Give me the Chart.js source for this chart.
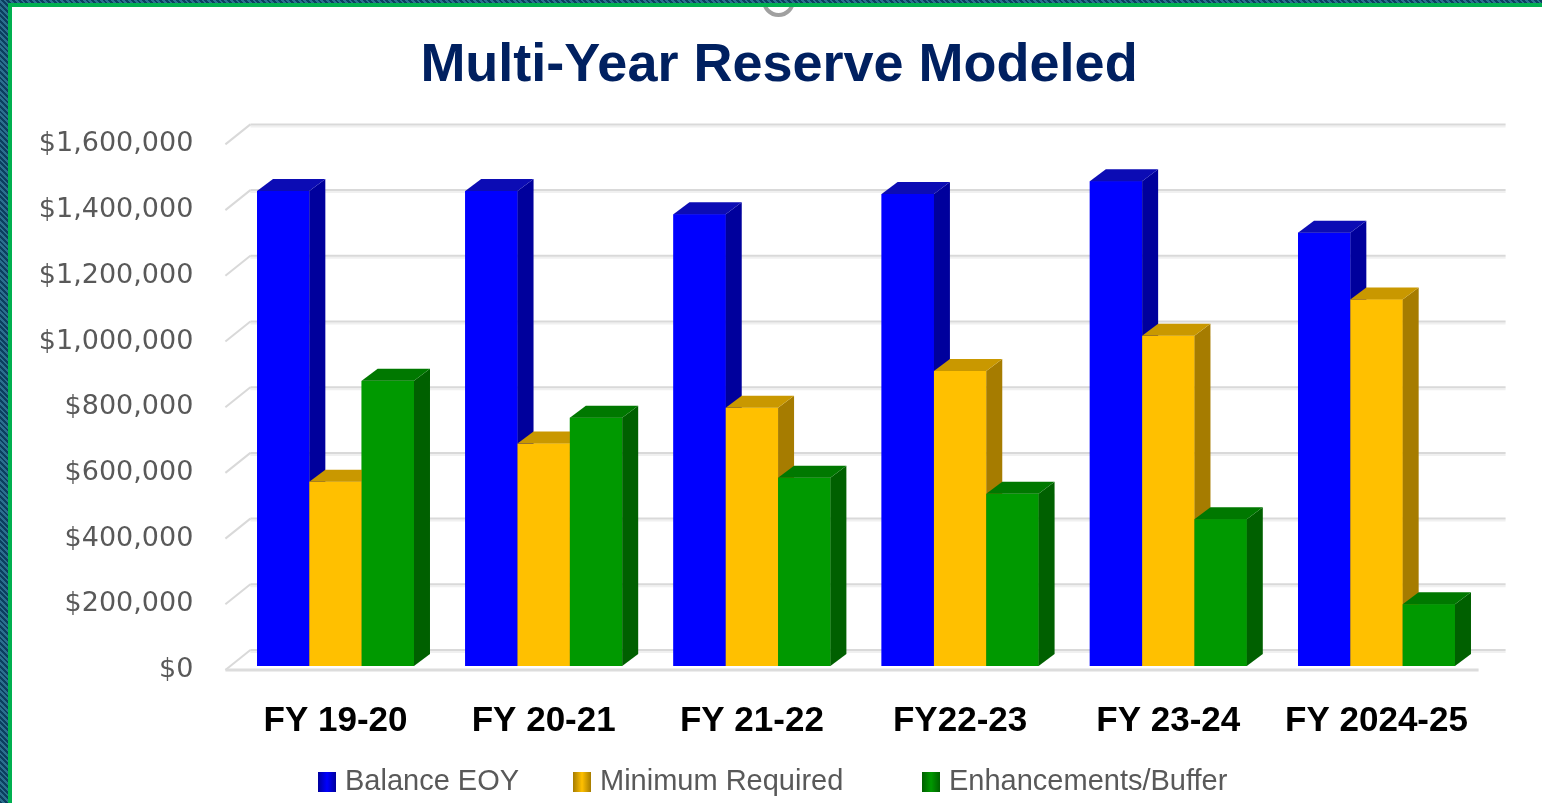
<!DOCTYPE html>
<html>
<head>
<meta charset="utf-8">
<title>Multi-Year Reserve Modeled</title>
<script src="https://cdn.jsdelivr.net/npm/chart.js@4.4.1/dist/chart.umd.min.js"></script>
<style>
  html, body { margin: 0; padding: 0; width: 1542px; height: 803px; overflow: hidden; }
  body { position: relative; background: repeating-linear-gradient(45deg, #0b3f5f 0 2px, #2b6f8f 2px 4px); }
  #panel { position: absolute; left: 8px; top: 3px; width: 1540px; height: 810px; background: #fff;
           border-left: 4px solid #00b050; border-top: 4px solid #00b050; overflow: hidden; }
  #knob { position: absolute; left: 750px; top: -23px; width: 25px; height: 25px; border: 4px solid #a0a0a0; border-radius: 50%; }
  #myChart { position: absolute; left: 0; top: 0; }
</style>
</head>
<body>
<div id="panel"><div id="knob"></div></div>
<canvas id="myChart" width="1542" height="803"></canvas>
<script>
const categories = ['FY 19-20', 'FY 20-21', 'FY 21-22', 'FY22-23', 'FY 23-24', 'FY 2024-25'];
const balanceEOY = [1446000, 1446000, 1375000, 1437000, 1476000, 1319000];
const minimumRequired = [561000, 677000, 786000, 898000, 1005000, 1116000];
const enhancementsBuffer = [868000, 756000, 573000, 524000, 447000, 188000];
const seriesNames = ['Balance EOY', 'Minimum Required', 'Enhancements/Buffer'];
const yTicks = [0, 200000, 400000, 600000, 800000, 1000000, 1200000, 1400000, 1600000];

// front / side / top colours for the fake 3D boxes
const faces = [
  { front: '#0000ff', side: '#00009c', top: '#0c0cb4' },
  { front: '#ffc000', side: '#a67c00', top: '#c99800' },
  { front: '#009900', side: '#006000', top: '#007800' }
];
const DX = 16, DY = -12;
const legendX = [318, 573, 922]; // where each legend swatch starts

function poly(ctx, pts) {
  ctx.beginPath();
  ctx.moveTo(pts[0][0], pts[0][1]);
  for (let i = 1; i < pts.length; i++) ctx.lineTo(pts[i][0], pts[i][1]);
  ctx.closePath();
  ctx.fill();
}

// back wall gridlines + floor
const wall = {
  id: 'wall',
  beforeDatasetsDraw(chart) {
    const { ctx, chartArea, scales: { y } } = chart;
    const fx = chartArea.left - 6, bx = chartArea.left + 19, rx = chartArea.right + 25;
    ctx.save();
    ctx.lineWidth = 2;
    yTicks.forEach(v => {
      const py = y.getPixelForValue(v);
      ctx.strokeStyle = '#f0f0f0';
      ctx.beginPath(); ctx.moveTo(bx, py - 14); ctx.lineTo(rx, py - 14); ctx.stroke();
      ctx.strokeStyle = '#d9d9d9';
      ctx.beginPath(); ctx.moveTo(bx, py - 16); ctx.lineTo(rx, py - 16); ctx.stroke();
      ctx.beginPath(); ctx.moveTo(fx, py + 4); ctx.lineTo(bx, py - 16); ctx.stroke();
    });
    const p0 = y.getPixelForValue(0);
    ctx.strokeStyle = '#dcdcdc';
    ctx.lineWidth = 3;
    ctx.beginPath(); ctx.moveTo(fx, p0 + 4); ctx.lineTo(chartArea.right - 2, p0 + 4); ctx.stroke();
    ctx.restore();
  }
};

// redraw every bar as a box (front, side, top), left to right inside each group
const bars3d = {
  id: 'bars3d',
  afterDatasetsDraw(chart) {
    const ctx = chart.ctx;
    ctx.save();
    chart.data.datasets.forEach((ds, i) => {
      const f = faces[i];
      chart.getDatasetMeta(i).data.forEach(bar => {
        const { x, y, base, width } = bar.getProps(['x', 'y', 'base', 'width'], true);
        const l = x - width / 2, r = x + width / 2;
        ctx.fillStyle = f.front;
        ctx.fillRect(l, y, width, base - y);
        ctx.fillStyle = f.side;
        poly(ctx, [[r, y], [r + DX, y + DY], [r + DX, base + DY], [r, base]]);
        ctx.fillStyle = f.top;
        poly(ctx, [[l, y], [r, y], [r + DX, y + DY], [l + DX, y + DY]]);
      });
    });
    ctx.restore();
  }
};

// title and legend
const titleLegend = {
  id: 'titleLegend',
  afterDraw(chart) {
    const ctx = chart.ctx;
    ctx.save();
    ctx.fillStyle = '#002060';
    ctx.font = 'bold 54px "Liberation Sans", Arial, sans-serif';
    ctx.textAlign = 'center';
    ctx.textBaseline = 'alphabetic';
    ctx.fillText('Multi-Year Reserve Modeled', 779, 81);

    ctx.font = '29px "Liberation Sans", Arial, sans-serif';
    ctx.textAlign = 'left';
    ctx.textBaseline = 'middle';
    const cy = 782;
    seriesNames.forEach((name, i) => {
      const f = faces[i];
      const x = legendX[i];
      const g = ctx.createLinearGradient(x, 0, x + 18, 0);
      g.addColorStop(0, f.side);
      g.addColorStop(0.5, f.front);
      g.addColorStop(1, f.side);
      ctx.fillStyle = g;
      ctx.fillRect(x, cy - 10, 18, 20);
      ctx.fillStyle = '#595959';
      ctx.fillText(name, x + 27, cy);
    });
    ctx.restore();
  }
};

new Chart(document.getElementById('myChart').getContext('2d'), {
  type: 'bar',
  data: {
    labels: categories,
    datasets: [
      { label: seriesNames[0], data: balanceEOY, backgroundColor: faces[0].front },
      { label: seriesNames[1], data: minimumRequired, backgroundColor: faces[1].front },
      { label: seriesNames[2], data: enhancementsBuffer, backgroundColor: faces[2].front }
    ]
  },
  options: {
    responsive: false,
    animation: false,
    events: [],
    layout: { padding: { left: 0, right: 61.4, top: 140.4, bottom: 0 } },
    datasets: { bar: { categoryPercentage: 0.754, barPercentage: 1.0, borderWidth: 0 } },
    plugins: { legend: { display: false }, title: { display: false }, tooltip: { enabled: false } },
    scales: {
      x: {
        grid: { display: false, drawTicks: false },
        border: { display: false },
        ticks: {
          color: '#000',
          padding: 34,
          font: { family: '"Liberation Sans", Arial, sans-serif', size: 35, weight: 'bold' }
        },
        afterFit(scale) { scale.height = 137; }
      },
      y: {
        min: 0,
        max: 1600000,
        grid: { display: false, drawTicks: false },
        border: { display: false },
        ticks: {
          stepSize: 200000,
          padding: 38,
          labelOffset: 4,
          color: '#595959',
          font: { family: '"DejaVu Sans", sans-serif', size: 27 },
          callback: v => '$' + Number(v).toLocaleString('en-US')
        },
        afterFit(scale) { scale.width = 231.4; }
      }
    }
  },
  plugins: [wall, bars3d, titleLegend]
});
</script>
</body>
</html>
